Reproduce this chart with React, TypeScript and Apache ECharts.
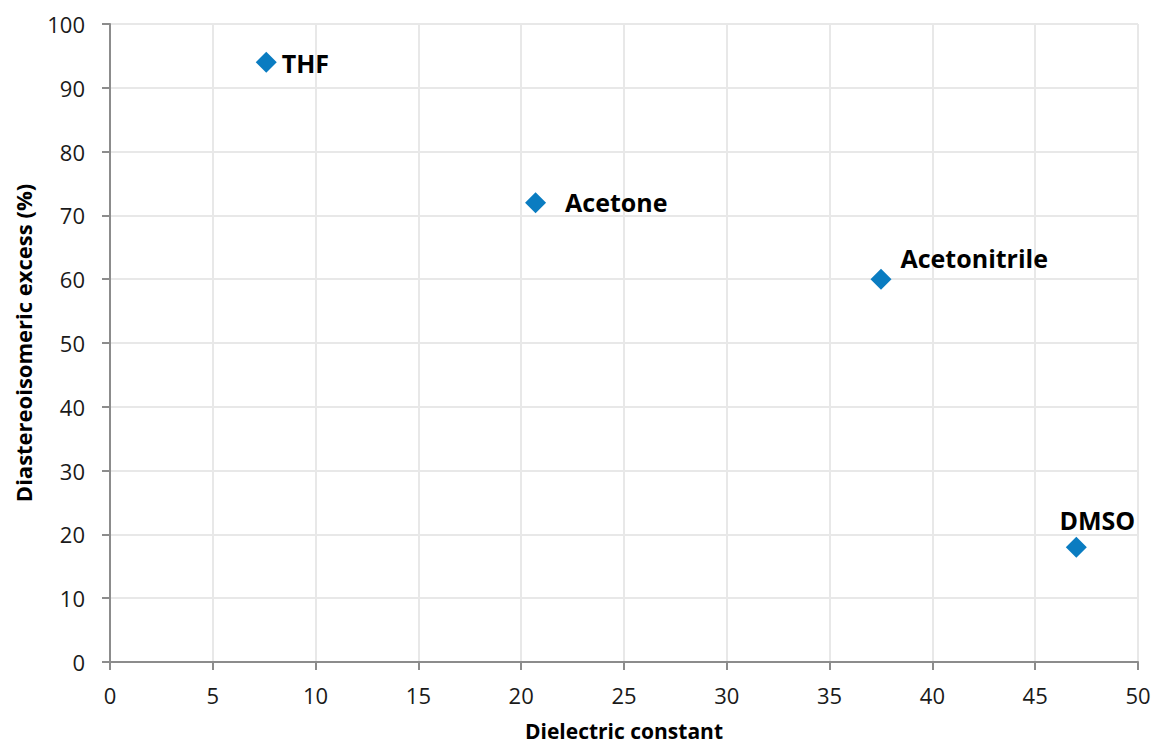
import React, { useEffect, useRef } from "react";
import * as echarts from "echarts";

const solvents = ["THF", "Acetone", "Acetonitrile", "DMSO"];
const dielectric = [7.6, 20.7, 37.5, 47];
const deValues = [94, 72, 60, 18];

const labelPlacement: Record<string, any> = {
  THF: { position: "right", distance: 5, offset: [0, 1] },
  Acetone: { position: "right", distance: 19, offset: [0, -1] },
  Acetonitrile: { position: "right", distance: 9, offset: [0, -21] },
  DMSO: { position: "top", distance: 4, offset: [21, 0] },
};

const FONT = "'Open Sans', 'Liberation Sans', sans-serif";
const W = 1154;
const H = 746;

export default function App() {
  const ref = useRef<HTMLDivElement>(null);
  useEffect(() => {
    if (!ref.current) return;
    document.body.style.margin = "0";
    const chart = echarts.init(ref.current, undefined, { renderer: "svg", width: W, height: H });
    const data = solvents.map((name, i) => ({
      name,
      value: [dielectric[i], deValues[i]],
      label: { show: true, formatter: name, ...labelPlacement[name] },
    }));
    chart.setOption({
      animation: false,
      backgroundColor: "#ffffff",
      grid: {
        left: 110,
        right: 16,
        top: 24,
        bottom: 84,
        containLabel: false,
        outerBoundsMode: "none",
      },
      xAxis: {
        type: "value",
        min: 0,
        max: 50,
        interval: 5,
        name: "Dielectric constant",
        nameLocation: "middle",
        nameGap: 59,
        nameTextStyle: { fontFamily: FONT, fontSize: 21, lineHeight: 20, fontWeight: "bold", color: "#000" },
        axisLine: { show: true, lineStyle: { color: "#8c8c8c", width: 2 } },
        axisTick: { show: true, length: 8, inside: false, lineStyle: { color: "#8c8c8c", width: 2 } },
        axisLabel: { fontFamily: FONT, fontSize: 22, color: "#1a1a1a", margin: 22 },
        splitLine: { show: true, lineStyle: { color: "#e8e8e8", width: 2 } },
      },
      yAxis: {
        type: "value",
        min: 0,
        max: 100,
        interval: 10,
        name: "Diastereoisomeric excess (%)",
        nameLocation: "middle",
        nameGap: 76,
        nameRotate: 90,
        nameTextStyle: { fontFamily: FONT, fontSize: 22, lineHeight: 22, fontWeight: "bold", color: "#000" },
        axisLine: { show: true, lineStyle: { color: "#8c8c8c", width: 2 } },
        axisTick: { show: true, length: 8, inside: false, lineStyle: { color: "#8c8c8c", width: 2 } },
        axisLabel: { fontFamily: FONT, fontSize: 22, color: "#1a1a1a", margin: 25 },
        splitLine: { show: true, lineStyle: { color: "#e8e8e8", width: 2 } },
      },
      series: [
        {
          type: "scatter",
          symbol: "diamond",
          symbolSize: [21, 21],
          itemStyle: { color: "#0a7cc1", opacity: 1 },
          label: {
            fontFamily: FONT,
            fontSize: 25,
            fontWeight: "bold",
            color: "#000",
          },
          data,
        },
      ],
    });
    return () => chart.dispose();
  }, []);
  return (
    <div
      ref={ref}
      style={{ position: "absolute", left: 0, top: 0, width: W, height: H }}
    />
  );
}
